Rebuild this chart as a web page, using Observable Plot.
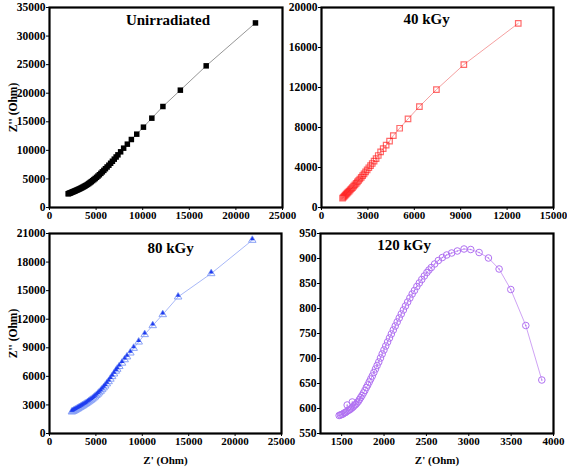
<!DOCTYPE html>
<html><head><meta charset="utf-8">
<script src="https://cdn.jsdelivr.net/npm/d3@7"></script>
<script src="https://cdn.jsdelivr.net/npm/@observablehq/plot@0.6"></script>
<style>
body{margin:0;background:#fff;}
#wrap{position:relative;width:567px;height:471px;background:#fff;overflow:hidden;}
.panel{position:absolute;}
</style></head>
<body><div id="wrap"></div>
<script>
// ---- data ----
const unirrX = [2000,2080,2160,2240,2320,2400,2490,2580,2670,2760,2860,2960,3060,3160,3270,3380,3490,3600,3720,3840,3960,4090,4220,4350,4480,4620,4760,4900,5050,5200,5350,5510,5670,5830,6000,6180,6370,6560,6750,6950,7150,7344,7632,7956,8352,8784,9360,10080,10980,12168,14040,16812,22100];
const unirrY = [2400,2450,2500,2555,2610,2665,2725,2790,2855,2920,2995,3065,3140,3210,3300,3390,3485,3580,3690,3800,3920,4050,4200,4360,4520,4700,4880,5070,5280,5500,5730,5980,6240,6500,6790,7090,7400,7740,8090,8460,8840,9217,9742,10383,11083,11900,12833,14058,15633,17675,20533,24790,32300];

const k40X = [1360,1420,1480,1540,1600,1660,1720,1790,1860,1930,2000,2080,2160,2240,2320,2400,2480,2570,2660,2750,2850,2950,3060,3170,3280,3400,3530,3670,3823,3990,4180,4400,4644,5054,5594,6329,7430,9202,12722];
const k40Y = [930,1030,1130,1230,1330,1430,1530,1645,1760,1875,1995,2130,2270,2410,2555,2700,2850,3020,3195,3370,3565,3760,3975,4190,4400,4630,4880,5200,5560,5880,6230,6640,7193,7925,8858,10090,11788,14286,18415];

const k80X = [2412,2500,2590,2680,2770,2860,2960,3060,3160,3270,3380,3490,3600,3720,3840,3960,4090,4220,4350,4480,4620,4760,4900,5050,5200,5350,5510,5670,5830,6000,6180,6370,6560,6750,6950,7150,7300,7524,7812,8100,8352,8712,9072,9612,10260,11124,12204,13860,17424,21852];
const k80Y = [2275,2320,2365,2410,2460,2510,2565,2620,2680,2745,2805,2870,2935,3010,3085,3165,3250,3340,3430,3520,3625,3740,3860,4000,4140,4290,4450,4620,4800,5000,5230,5460,5720,5990,6270,6560,6760,7050,7400,7760,8060,8470,8960,9620,10400,11340,12495,14350,16800,20300];

const k120X = [1470,1485,1500,1515,1530,1545,1560,1565,1575,1590,1605,1620,1625,1635,1650,1665,1680,1695,1710,1725,1740,1757,1774,1791,1808,1825,1843,1861,1880,1899,1918,1938,1958,1978,1999,2020,2042,2064,2086,2109,2132,2155,2179,2203,2228,2253,2279,2305,2332,2359,2387,2416,2445,2475,2506,2530,2558,2597,2641,2688,2739,2798,2865,2944,3023,3122,3232,3358,3496,3673,3862];
const k120Y = [586,587,588,589,591,592,594,607,596,597,599,601,613,603,606,608,611,614,618,622,626,631,636,642,647,653,659,665,672,679,686,693,701,709,717,725,733,741,749,757,765,773,781,789,797,805,813,821,829,836,844,851,858,865,872,877,882,889,896,902,907,911,915,919,918,912,901,879,838,766,657];

const titles = ["Unirradiated", "40 kGy", "80 kGy", "120 kGy"];
const xTicks1 = [0,5000,10000,15000,20000,25000];
const yTicks1 = [0,5000,10000,15000,20000,25000,30000,35000];
const xTicks2 = [0,3000,6000,9000,12000,15000];
const yTicks2 = [0,4000,8000,12000,16000,20000];
const xTicks3 = [0,5000,10000,15000,20000,25000];
const yTicks3 = [0,3000,6000,9000,12000,15000,18000,21000];
const xTicks4 = [1500,2000,2500,3000,3500,4000];
const yTicks4 = [550,600,650,700,750,800,850,900,950];
const yLabel = "Z'' (Ohm)";
const xLabel = "Z' (Ohm)";

// ---- build ----
const toRows = (xs, ys) => xs.map((x, i) => ({x, y: ys[i]}));
const font = "Liberation Serif, Times New Roman, serif";
const fmt = d => String(d);

function panel(cfg) {
  const {left, top, width, height, ml, mr, mt, mb, xDomain, yDomain, xt, yt, rows, title, tdx, tdy, marks, showY, showX} = cfg;
  const chart = Plot.plot({
    width, height, marginLeft: ml, marginRight: mr, marginTop: mt, marginBottom: mb,
    x: {domain: xDomain}, y: {domain: yDomain},
    style: {fontFamily: font, fontWeight: "bold", fontSize: "10px", color: "black", background: "transparent", overflow: "visible"},
    marks: [
      Plot.axisX({ticks: xt, tickFormat: fmt, tickSize: 3, tickPadding: 1, label: showX ? xLabel : null, labelArrow: false, labelAnchor: "center", labelOffset: 30, fontSize: 11, fontWeight: "bold"}),
      Plot.axisY({ticks: yt, tickFormat: fmt, tickSize: 3, tickPadding: 1, label: showY ? yLabel : null, labelArrow: false, labelAnchor: "center", labelOffset: 41, fontSize: 11.5, fontWeight: "bold"}),
      ...marks(rows),
      Plot.frame({stroke: "black", strokeWidth: 2.2}),
      Plot.text([title], {text: d => d, frameAnchor: "top", dx: tdx, dy: tdy, fontSize: 15, fontWeight: "bold", fill: "black"})
    ]
  });
  const div = document.createElement("div");
  div.className = "panel";
  div.style.left = left + "px"; div.style.top = top + "px";
  div.appendChild(chart);
  document.getElementById("wrap").appendChild(div);
}

panel({left: 0, top: 0, width: 285, height: 222, ml: 49, mr: 3, mt: 7, mb: 15,
  xDomain: [0, 25000], yDomain: [0, 35000], xt: xTicks1, yt: yTicks1,
  rows: toRows(unirrX, unirrY), title: titles[0], tdx: 2, tdy: 7, showY: true, showX: false,
  marks: rows => [
    Plot.line(rows, {x: "x", y: "y", stroke: "#8a8a8a", strokeWidth: 0.9}),
    Plot.dot(rows, {x: "x", y: "y", symbol: "square", r: 3.1, fill: "black", stroke: "none"})
  ]});

panel({left: 285, top: 0, width: 282, height: 222, ml: 36, mr: 14, mt: 7, mb: 15,
  xDomain: [0, 15000], yDomain: [0, 20000], xt: xTicks2, yt: yTicks2,
  rows: toRows(k40X, k40Y), title: titles[1], tdx: -11, tdy: 6, showY: false, showX: false,
  marks: rows => [
    Plot.line(rows, {x: "x", y: "y", stroke: "#f5a0a0", strokeWidth: 1}),
    Plot.dot(rows, {x: "x", y: "y", symbol: "square", r: 3.1, fill: "none", stroke: "#ff1010", strokeOpacity: 0.62, strokeWidth: 1.2})
  ]});

panel({left: 0, top: 222, width: 285, height: 249, ml: 49, mr: 4, mt: 11, mb: 38,
  xDomain: [0, 25000], yDomain: [0, 21000], xt: xTicks3, yt: yTicks3,
  rows: toRows(k80X, k80Y), title: titles[2], tdx: 5, tdy: 9, showY: true, showX: true,
  marks: rows => [
    Plot.line(rows, {x: "x", y: "y", stroke: "#a8b8f8", strokeWidth: 1}),
    Plot.dot(rows, {x: "x", y: "y", symbol: "triangle", r: 2.8, fill: "none", stroke: "#8aa2f6", strokeWidth: 1}),
    Plot.dot(rows, {x: "x", y: "y", symbol: "triangle", r: 1.7, dy: -1.3, fill: "#1f3cf0", stroke: "none"})
  ]});

panel({left: 285, top: 222, width: 282, height: 249, ml: 35, mr: 14, mt: 11, mb: 38,
  xDomain: [1250, 4000], yDomain: [550, 950], xt: xTicks4, yt: yTicks4,
  rows: toRows(k120X, k120Y), title: titles[3], tdx: -33, tdy: 6, showY: false, showX: true,
  marks: rows => [
    Plot.line(rows, {x: "x", y: "y", stroke: "#cfa3f5", strokeWidth: 1}),
    Plot.dot(rows, {x: "x", y: "y", symbol: "circle", r: 3.3, fill: "none", stroke: "#b172f2", strokeWidth: 1}),
    Plot.dot(rows, {x: "x", y: "y", r: 0.7, fill: "#b172f2", stroke: "none"})
  ]});
</script>
</body></html>
